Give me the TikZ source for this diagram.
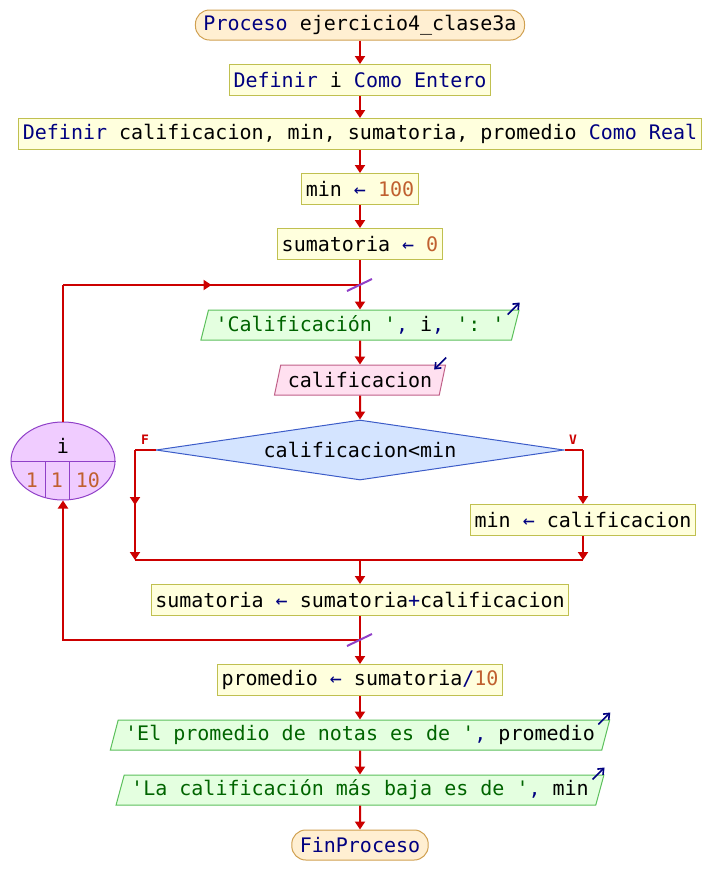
\documentclass[tikz,border=0pt]{standalone}
\usepackage{fontspec}
\setmonofont{DejaVu Sans Mono}
\usetikzlibrary{shapes.geometric,arrows.meta,decorations.markings}

\definecolor{flowred}{HTML}{CC0000}
\definecolor{kwblue}{HTML}{000080}
\definecolor{numbrown}{HTML}{C06030}
\definecolor{strgreen}{HTML}{006400}
\definecolor{termfill}{HTML}{FFEFD2}
\definecolor{termline}{HTML}{D0A050}
\definecolor{procfill}{HTML}{FFFFDD}
\definecolor{procline}{HTML}{C0C050}
\definecolor{outfill}{HTML}{E4FFE0}
\definecolor{outline}{HTML}{5CC05C}
\definecolor{infill}{HTML}{FFE0F0}
\definecolor{inline}{HTML}{C06088}
\definecolor{decfill}{HTML}{D4E4FF}
\definecolor{decline}{HTML}{3C5CC8}
\definecolor{varfill}{HTML}{F0CCFF}
\definecolor{varline}{HTML}{9040C8}

\newcommand{\kw}[1]{\textcolor{kwblue}{#1}}
\newcommand{\nm}[1]{\textcolor{numbrown}{#1}}
\newcommand{\strg}[1]{\textcolor{strgreen}{#1}}

\tikzset{
  every node/.style={font=\ttfamily\fontsize{20}{24}\selectfont},
  flow/.style={color=flowred, line width=2pt},
  tip/.style={-{Triangle[width=10pt,length=8pt]}},
  midtip/.style={postaction={decorate},
    decoration={markings,mark=at position 0.5 with {\arrow{Triangle[width=10pt,length=8pt]}}}},
  terminal/.style={draw=termline, fill=termfill, line width=1pt, rounded corners=14pt,
    minimum height=30pt, inner xsep=8pt, inner ysep=0pt},
  procbox/.style={draw=procline, fill=procfill, line width=1pt,
    minimum height=31pt, inner xsep=4pt, inner ysep=0pt},
  iobox/.style={trapezium, trapezium left angle=68, trapezium right angle=112,
    trapezium stretches body, line width=1pt, minimum height=30pt, inner xsep=7pt, inner ysep=0pt},
  outbox/.style={iobox, draw=outline, fill=outfill},
  inbox/.style={iobox, draw=inline, fill=infill},
  decision/.style={diamond, aspect=6.8, draw=decline, fill=decfill, line width=1pt,
    minimum width=408pt, minimum height=60pt, inner sep=0pt},
  loopvar/.style={ellipse, draw=varline, fill=varfill, line width=1pt,
    minimum width=104pt, minimum height=78pt, inner sep=0pt},
  branch/.style={text=flowred, font=\ttfamily\bfseries\fontsize{13}{14}\selectfont},
  loopmark/.style={draw=varline, line width=2pt},
  ioicon/.style={draw=kwblue, line width=1.6pt, -{Straight Barb[length=5pt,width=8pt]}}
}

\begin{document}
\begin{tikzpicture}[x=1pt,y=-1pt]
\useasboundingbox (0,0) rectangle (711,895);

% main column
\node[terminal] (start) at (360,25) {\kw{Proceso} ejercicio4\_clase3a};
\node[procbox] (defi) at (360,80) {\kw{Definir} i \kw{Como Entero}};
\node[procbox] (defr) at (360,134) {\kw{Definir} calificacion, min, sumatoria, promedio \kw{Como Real}};
\node[procbox] (setmin0) at (360,189) {min \kw{←} \nm{100}};
\node[procbox] (setsum0) at (360,244) {sumatoria \kw{←} \nm{0}};
\coordinate (looptop) at (360,285);
\node[outbox] (askmsg) at (360,325) {\strg{'Calificación '}\kw{,} i\kw{,} \strg{': '}};
\node[inbox] (readcal) at (360,380) {calificacion};
\node[decision] (decide) at (360,450) {calificacion<min};
\node[branch] (flab) at (145,440) {F};
\node[branch] (vlab) at (573,440) {V};
\node[procbox] (setmin) at (583,520) {min \kw{←} calificacion};
\coordinate (fcorner) at (135,450);
\coordinate (fend) at (135,560);
\coordinate (tcorner) at (583,450);
\coordinate (tend) at (583,560);
\coordinate (merge) at (360,560);
\node[procbox] (acc) at (360,600) {sumatoria \kw{←} sumatoria\kw{+}calificacion};
\coordinate (loopbot) at (360,640);
\node[procbox] (avg) at (360,680) {promedio \kw{←} sumatoria\kw{/}\nm{10}};
\node[outbox] (showavg) at (360,735) {\strg{'El promedio de notas es de '}\kw{,} promedio};
\node[outbox] (showmin) at (360,790) {\strg{'La calificación más baja es de '}\kw{,} min};
\node[terminal] (finish) at (360,845) {\kw{FinProceso}};

% loop variable
\node[loopvar] (loopvar) at (63,461) {};
\coordinate (loopcorner) at (63,285);
\draw[varline, line width=1pt] (loopvar.west) -- (loopvar.east);
\draw[varline, line width=1pt] (45,461) -- (45,497);
\draw[varline, line width=1pt] (69,461) -- (69,499);
\node (varname) at (63,446) {i};
\node (vstart) at (32,480) {\nm{1}};
\node (vstep) at (57,480) {\nm{1}};
\node (vend) at (88,480) {\nm{10}};

% connectors
\draw[flow,tip] (start) -- (defi);
\draw[flow,tip] (defi) -- (defr);
\draw[flow,tip] (defr) -- (setmin0);
\draw[flow,tip] (setmin0) -- (setsum0);
\draw[flow] (setsum0) -- (looptop);
\draw[flow,tip] (looptop) -- (askmsg);
\draw[flow,tip] (askmsg) -- (readcal);
\draw[flow,tip] (readcal) -- (decide);
\draw[flow] (decide.west) -- (fcorner);
\draw[flow,tip,midtip] (fcorner) -- (fend);
\draw[flow] (decide.east) -- (tcorner);
\draw[flow,tip] (tcorner) -- (setmin);
\draw[flow,tip] (setmin) -- (tend);
\draw[flow] (fend) -- (tend);
\draw[flow,tip] (merge) -- (acc);
\draw[flow] (acc) -- (loopbot);
\draw[flow,tip] (loopbot) -- (avg);
\draw[flow,tip] (loopbot) -| (loopvar.south);
\draw[flow] (loopvar.north) -- (loopcorner);
\draw[flow,midtip] (loopcorner) -- (looptop);
\draw[flow,tip] (avg) -- (showavg);
\draw[flow,tip] (showavg) -- (showmin);
\draw[flow,tip] (showmin) -- (finish);

% loop marks
\draw[loopmark] ([shift={(-13,6)}]looptop) -- ([shift={(12,-6)}]looptop);
\draw[loopmark] ([shift={(-13,6)}]loopbot) -- ([shift={(12,-6)}]loopbot);

% in/out icons
\draw[ioicon] ([shift={(-12,5)}]askmsg.top right corner) -- ([shift={(0,-7)}]askmsg.top right corner);
\draw[ioicon] ([shift={(0,-7)}]readcal.top right corner) -- ([shift={(-12,5)}]readcal.top right corner);
\draw[ioicon] ([shift={(-12,5)}]showavg.top right corner) -- ([shift={(0,-7)}]showavg.top right corner);
\draw[ioicon] ([shift={(-12,5)}]showmin.top right corner) -- ([shift={(0,-7)}]showmin.top right corner);
\end{tikzpicture}
\end{document}
